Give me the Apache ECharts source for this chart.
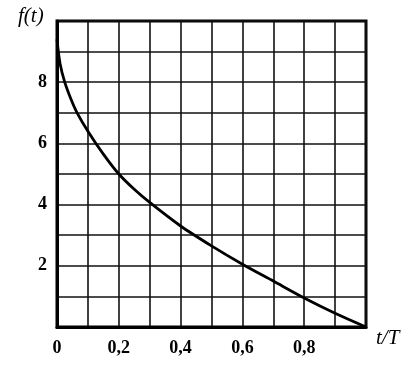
<!DOCTYPE html>
<html>
<head>
<meta charset="utf-8">
<script src="https://cdn.jsdelivr.net/npm/echarts@6/dist/echarts.min.js"></script>
<style>
html,body{margin:0;padding:0;background:#fff;}
#chart{width:419px;height:369px;}
</style>
</head>
<body>
<div id="chart"></div>
<script>
// Data
var tValues = [0, 0.01, 0.025, 0.045, 0.065, 0.1, 0.15, 0.2, 0.25, 0.3, 0.4, 0.5, 0.6, 0.7, 0.8, 0.9, 1.0];
var fValues = [9.4, 8.6, 8.0, 7.45, 7.0, 6.4, 5.65, 5.0, 4.5, 4.07, 3.3, 2.65, 2.05, 1.5, 0.95, 0.45, 0];
var xTickLabels = {0: '0', 2: '0,2', 4: '0,4', 6: '0,6', 8: '0,8'};
var yTickLabels = [2, 4, 6, 8];
var yAxisTitle = 'f(t)';
var xAxisTitle = 't/T';

var points = tValues.map(function (t, i) { return [t, fValues[i]]; });
var serif = '"Liberation Serif", "DejaVu Serif", serif';

var chart = echarts.init(document.getElementById('chart'));
chart.setOption({
  animation: false,
  backgroundColor: '#fff',
  grid: {left: 57, right: 53, top: 21, bottom: 42, show: true,
    borderColor: '#000', borderWidth: 3, backgroundColor: 'transparent'},
  xAxis: {
    type: 'value', min: 0, max: 1, interval: 0.1,
    axisLine: {show: true, lineStyle: {color: '#000', width: 3}},
    axisTick: {show: false},
    splitLine: {show: true, lineStyle: {color: '#111', width: 1.6}},
    axisLabel: {
      margin: 12, color: '#000', fontFamily: serif, fontSize: 18, fontWeight: 'bold',
      formatter: function (v) {
        var k = Math.round(v * 10);
        return xTickLabels[k] !== undefined ? xTickLabels[k] : '';
      }
    }
  },
  yAxis: {
    type: 'value', min: 0, max: 10, interval: 1,
    axisLine: {show: true, lineStyle: {color: '#000', width: 3}},
    axisTick: {show: false},
    splitLine: {show: true, lineStyle: {color: '#111', width: 1.6}},
    axisLabel: {
      margin: 10, color: '#000', fontFamily: serif, fontSize: 18, fontWeight: 'bold',
      formatter: function (v) {
        return yTickLabels.indexOf(Math.round(v)) >= 0 ? String(Math.round(v)) : '';
      }
    }
  },
  graphic: [
    {type: 'text', left: 18, top: 6,
      style: {text: yAxisTitle, font: 'italic 21px ' + serif, fill: '#000'}},
    {type: 'text', left: 376, top: 328,
      style: {text: xAxisTitle, font: 'italic 21px ' + serif, fill: '#000'}}
  ],
  series: [{
    type: 'line', data: points, smooth: 0.3, showSymbol: false,
    lineStyle: {color: '#000', width: 2.8}
  }]
});
</script>
</body>
</html>
